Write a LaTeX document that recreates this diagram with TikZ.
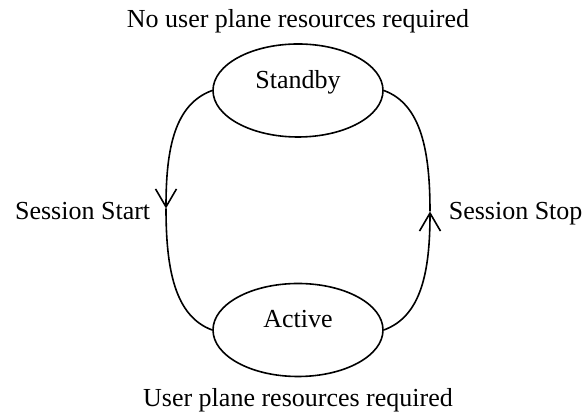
\documentclass[tikz,border=0pt]{standalone}
\usepackage{fontspec}
\setmainfont{Liberation Serif}
\usetikzlibrary{arrows.meta}
\usetikzlibrary{shapes.geometric}

\begin{document}
\begin{tikzpicture}[line width=1.6pt, x=1pt, y=1pt, >={Straight Barb[length=18pt,width=21pt]},
    every node/.style={font=\fontsize{26}{31}\selectfont, inner sep=2pt},
    state/.style={draw, ellipse, minimum width=170pt, minimum height=93pt, inner sep=0pt, text height=18pt, text depth=22pt}]
    \useasboundingbox (0,0) rectangle (583,419);
    \node[state] (standby) at (298,328.5) {Standby};
    \node[state] (active) at (298,89) {Active};
    \node[anchor=base] (nouser) at (298,391.5) {No user plane resources required};
    \node[anchor=base] (userplane) at (298,12) {User plane resources required};
    \coordinate (startmid) at (166,210.5);
    \coordinate (stopmid) at (430,207.5);
    \node[anchor=base east] (start) at (153,199) {Session Start};
    \node[anchor=base west] (stop) at (446,199) {Session Stop};

    \draw[->] (standby.west) to[out=200,in=90,out distance=40pt,in distance=60pt] (startmid);
    \draw (startmid) to[out=-90,in=160,out distance=60pt,in distance=40pt] (active.west);
    \draw[->] (active.east) to[out=20,in=-90,out distance=40pt,in distance=60pt] (stopmid);
    \draw (stopmid) to[out=90,in=-20,out distance=60pt,in distance=40pt] (standby.east);
\end{tikzpicture}
\end{document}
